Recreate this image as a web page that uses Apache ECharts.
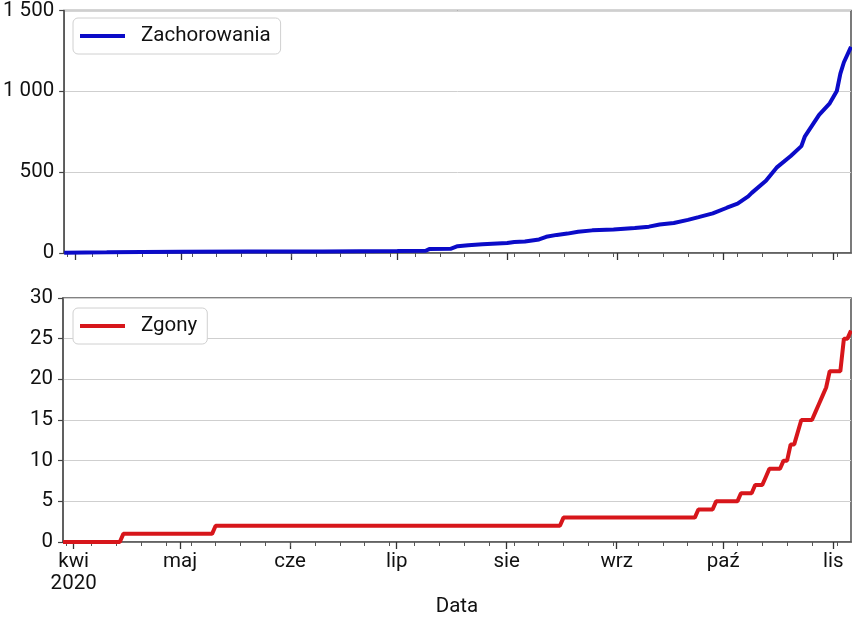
<!DOCTYPE html>
<html>
<head>
<meta charset="utf-8">
<script src="https://cdn.jsdelivr.net/npm/echarts@6/dist/echarts.min.js"></script>
<style>
html,body{margin:0;padding:0;background:#fff;}
#chart{width:852px;height:619px;}
</style>
</head>
<body>
<div id="chart"></div>
<script>
// ---- data ----
const startDate = '2020-03-29';
const endDate = '2020-11-06';

const monthStarts = ['2020-04-01','2020-05-01','2020-06-01','2020-07-01','2020-08-01','2020-09-01','2020-10-01','2020-11-01'];
const monthLabels = ['kwi\n2020','maj','cze','lip','sie','wrz','paź','lis'];

const casesDates = ['2020-03-29','2020-04-10','2020-04-20','2020-05-01','2020-05-20','2020-06-10','2020-07-01','2020-07-09','2020-07-10','2020-07-16','2020-07-18','2020-07-21','2020-07-25','2020-08-01','2020-08-03','2020-08-06','2020-08-10','2020-08-12','2020-08-15','2020-08-18','2020-08-21','2020-08-25','2020-08-31','2020-09-06','2020-09-10','2020-09-13','2020-09-17','2020-09-21','2020-09-24','2020-09-28','2020-10-02','2020-10-05','2020-10-08','2020-10-09','2020-10-13','2020-10-16','2020-10-20','2020-10-23','2020-10-24','2020-10-28','2020-10-31','2020-11-02','2020-11-03','2020-11-04','2020-11-06'];
const casesValues = [2,4,6,7,9,10,12,14,24,26,42,48,54,62,68,71,84,100,112,120,131,140,146,155,163,176,186,205,222,245,280,305,350,372,447,528,600,661,722,855,926,1002,1110,1180,1275];

const deathsDates = ['2020-03-29','2020-04-14','2020-04-15','2020-05-10','2020-05-11','2020-08-16','2020-08-17','2020-09-23','2020-09-24','2020-09-28','2020-09-29','2020-10-05','2020-10-06','2020-10-09','2020-10-10','2020-10-12','2020-10-13','2020-10-14','2020-10-17','2020-10-18','2020-10-19','2020-10-20','2020-10-21','2020-10-23','2020-10-26','2020-10-27','2020-10-28','2020-10-29','2020-10-30','2020-10-31','2020-11-03','2020-11-04','2020-11-05','2020-11-06'];
const deathsValues = [0,0,1,1,2,2,3,3,4,4,5,5,6,6,7,7,8,9,9,10,10,12,12,15,15,16,17,18,19,21,21,25,25,26];

// ---- build daily category list for the axis ----
const days = [];
for (let t = Date.parse(startDate + 'T00:00:00Z'); t <= Date.parse(endDate + 'T00:00:00Z'); t += 86400000) {
  days.push(new Date(t).toISOString().slice(0, 10));
}
const zip = (a, b) => a.map((d, i) => [d, b[i]]);

const FONT = 'Roboto';
const FS = 20.5;
const TXT = '#111';
const SPINE = '#5a5a5a';
const isMonth = (i, v) => monthStarts.indexOf(v) >= 0;
const isMonday = (i, v) => new Date(v + 'T00:00:00Z').getUTCDay() === 1;

function majorX(grid, showLabels) {
  return {
    type: 'category', gridIndex: grid, data: days, boundaryGap: false, position: 'bottom',
    axisLine: { show: true, lineStyle: { color: SPINE, width: 1.6 } },
    axisTick: { show: true, interval: isMonth, length: 7, lineStyle: { color: '#333', width: 1.3 } },
    axisLabel: {
      show: showLabels, interval: isMonth, margin: 9, color: TXT, fontFamily: FONT, fontSize: FS, lineHeight: 22,
      formatter: v => monthLabels[monthStarts.indexOf(v)]
    },
    splitLine: { show: false },
    name: showLabels ? 'Data' : '', nameLocation: 'middle', nameGap: 53,
    nameTextStyle: { color: TXT, fontFamily: FONT, fontSize: FS }
  };
}
function minorX(grid) {
  return {
    type: 'category', gridIndex: grid, data: days, boundaryGap: false, position: 'bottom',
    axisLine: { show: false },
    axisTick: { show: true, interval: isMonday, length: 4, lineStyle: { color: '#555', width: 1 } },
    axisLabel: { show: false },
    splitLine: { show: false }
  };
}
function yAx(grid, max, interval, fmt) {
  return {
    type: 'value', gridIndex: grid, min: 0, max: max, interval: interval,
    axisLine: { show: true, lineStyle: { color: SPINE, width: 1.6 } },
    axisTick: { show: true, length: 5, lineStyle: { color: '#444', width: 1.2 } },
    axisLabel: { color: TXT, fontFamily: FONT, fontSize: FS, margin: 10, formatter: fmt },
    splitLine: { show: true, lineStyle: { color: '#cfcfcf', width: 1 } }
  };
}
const thousands = v => String(v).replace(/\B(?=(\d{3})+(?!\d))/g, ' ');

const legendBase = {
  left: 73, orient: 'horizontal', icon: 'rect', itemWidth: 45, itemHeight: 4,
  padding: [7, 10, 7, 7], borderColor: '#d0d0d0', borderWidth: 1, borderRadius: 5, backgroundColor: '#fff',
  textStyle: { color: TXT, fontFamily: FONT, fontSize: FS, lineHeight: 22, padding: [0, 0, 0, 11] }
};

const chart = echarts.init(document.getElementById('chart'), null, { renderer: 'canvas' });
chart.setOption({
  animation: false,
  backgroundColor: '#fff',
  grid: [
    { left: 63, top: 8, width: 788, height: 245, show: true, borderColor: SPINE, borderWidth: 1.6, backgroundColor: 'transparent' },
    { left: 63, top: 298, width: 788, height: 244, show: true, borderColor: SPINE, borderWidth: 1.6, backgroundColor: 'transparent' }
  ],
  xAxis: [majorX(0, false), minorX(0), majorX(1, true), minorX(1)],
  yAxis: [yAx(0, 1500, 500, thousands), yAx(1, 30, 5, v => v)],
  legend: [
    Object.assign({}, legendBase, { top: 18, data: ['Zachorowania'] }),
    Object.assign({}, legendBase, { top: 308, data: ['Zgony'] })
  ],
  series: [
    { name: 'Zachorowania', type: 'line', xAxisIndex: 0, yAxisIndex: 0, data: zip(casesDates, casesValues),
      symbol: 'none', lineStyle: { color: '#0b0bc8', width: 4 }, itemStyle: { color: '#0b0bc8' } },
    { name: 'Zgony', type: 'line', xAxisIndex: 2, yAxisIndex: 1, data: zip(deathsDates, deathsValues),
      symbol: 'none', lineStyle: { color: '#d7161b', width: 4 }, itemStyle: { color: '#d7161b' } }
  ]
});
</script>
</body>
</html>
